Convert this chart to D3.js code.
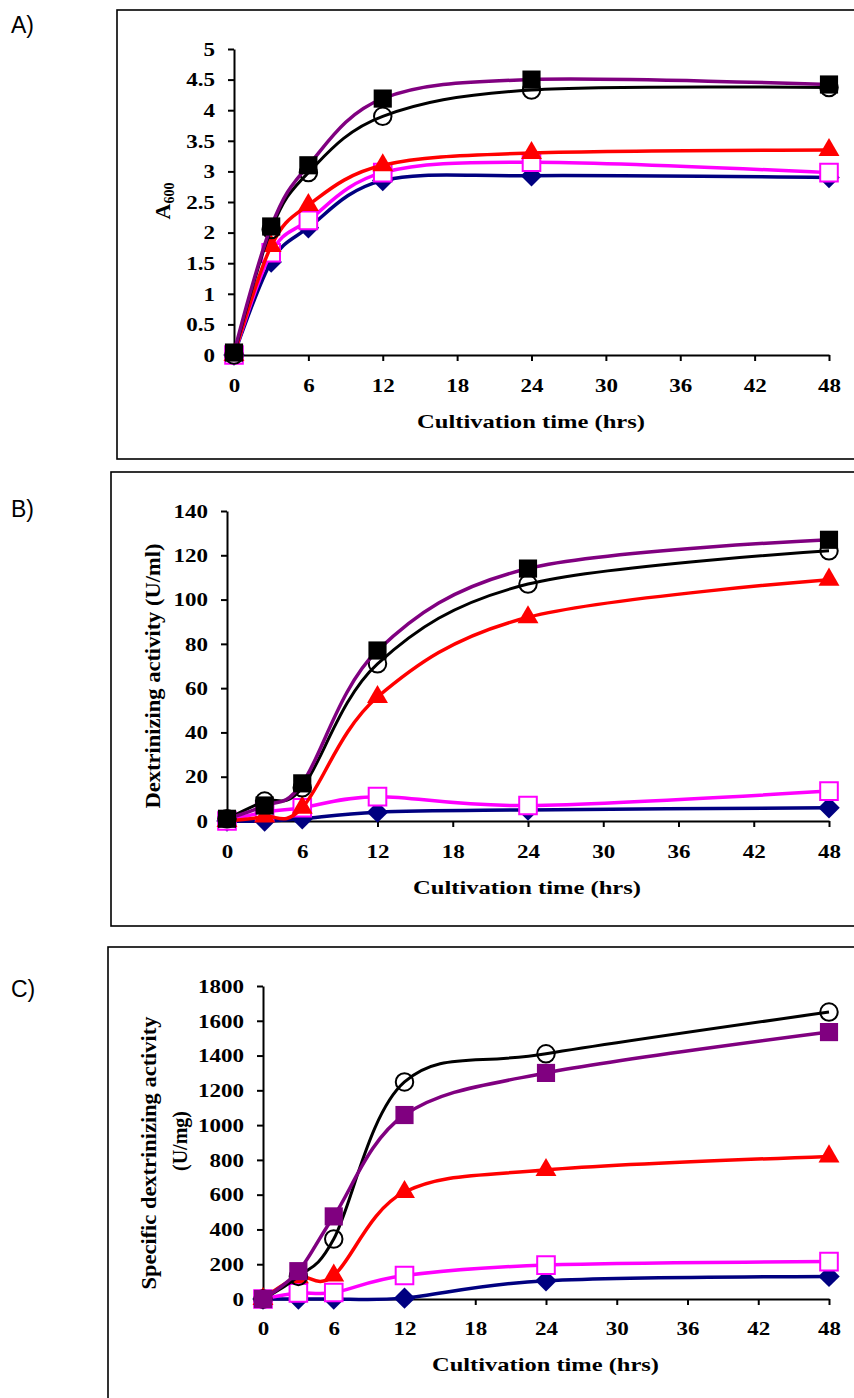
<!DOCTYPE html>
<html lang="en">
  <head>
    <meta charset="UTF-8" />
    <title>Growth and dextrinizing activity</title>
    <script src="https://cdn.jsdelivr.net/npm/d3@7"></script>
    <style>
      body { margin: 0; background: #fff; }
      svg { display: block; }
    </style>
  </head>
  <body>
    <div id="container"></div>
    <script>
      // sampling times (hrs)
      const times = [0, 3, 6, 12, 24, 48]
      const xTicks = [0, 6, 12, 18, 24, 30, 36, 42, 48]

      // A) growth, A600
      const diamondA = [0, 1.52, 2.08, 2.85, 2.93, 2.9]
      const openSquareA = [0, 1.67, 2.2, 2.98, 3.15, 2.98]
      const triangleA = [0, 1.78, 2.45, 3.1, 3.3, 3.35]
      const circleA = [0, 2.05, 2.98, 3.9, 4.33, 4.37]
      const squareA = [0.04, 2.1, 3.1, 4.19, 4.5, 4.42]
      const yTicksA = [0, 0.5, 1, 1.5, 2, 2.5, 3, 3.5, 4, 4.5, 5]

      // B) dextrinizing activity (U/ml)
      const diamondB = [0, 0, 1, 4, 5, 6]
      const openSquareB = [0, 4, 6, 11, 7, 13.5]
      const triangleB = [0, 2, 6, 56, 92, 109]
      const circleB = [1, 9, 15, 71, 107, 122]
      const squareB = [1, 7, 17, 77, 114, 127]
      const yTicksB = [0, 20, 40, 60, 80, 100, 120, 140]

      // C) specific dextrinizing activity (U/mg)
      const diamondC = [0, 0, 0, 5, 105, 130]
      const openSquareC = [0, 35, 37, 135, 195, 215]
      const triangleC = [0, 125, 135, 615, 742, 820]
      const circleC = [0, 130, 345, 1248, 1410, 1650]
      const squareC = [0, 160, 475, 1058, 1300, 1535]
      const yTicksC = [0, 200, 400, 600, 800, 1000, 1200, 1400, 1600, 1800]

      const width = 854
      const height = 1398
      const serif = '"Liberation Serif", "Times New Roman", serif'
      const stretch = 1.18

      const svg = d3.select('#container').append('svg')
        .attr('width', width)
        .attr('height', height)
        .attr('viewBox', [0, 0, width, height])

      // marker styles per series (drawing order matters)
      const styles = [
        { color: '#000080', lw: 3.5, sym: 'diamond', size: 230, fill: '#000080' },
        { color: '#ff00ff', lw: 3.5, sym: d3.symbolSquare, size: 310, fill: '#fff', sw: 2 },
        { color: '#ff0000', lw: 3.5, sym: d3.symbolTriangle, size: 190, fill: '#ff0000' },
        { color: '#000000', lw: 3, sym: d3.symbolCircle, size: 240, fill: 'none', sw: 2 },
        { color: '#800080', lw: 3.5, sym: d3.symbolSquare, size: 330, fill: '#000' }
      ]

      const panels = [
        {
          tag: 'A)', tagY: 33, box: [117, 10, 459],
          x0: 234, x1: 829, yTop: 49, yBot: 355, yMax: 5, yTicks: yTicksA,
          series: [diamondA, openSquareA, triangleA, circleA, squareA],
          squareFill: '#000', tickY: 392, titleY: 428, titleX: 417, titleLen: 228,
          ylabel: 'A600', ylabelX: 170, ylabelY: 201
        },
        {
          tag: 'B)', tagY: 517, box: [111, 472, 926],
          x0: 227, x1: 829, yTop: 511, yBot: 821, yMax: 140, yTicks: yTicksB,
          series: [diamondB, openSquareB, triangleB, circleB, squareB],
          squareFill: '#000', tickY: 858, titleY: 894, titleX: 413, titleLen: 228,
          ylabel: ['Dextrinizing activity (U/ml)'], ylabelX: 160, ylabelY: 676, ylabelLen: 265
        },
        {
          tag: 'C)', tagY: 997, box: [108, 947, 1420],
          x0: 263, x1: 829, yTop: 986, yBot: 1299, yMax: 1800, yTicks: yTicksC,
          series: [diamondC, openSquareC, triangleC, circleC, squareC],
          squareFill: '#800080', tickY: 1335, titleY: 1371, titleX: 432, titleLen: 227,
          ylabel: ['Specific dextrinizing activity', '(U/mg)'], ylabelX: 156, ylabelY: 1153,
          ylabelLen: 273, ylabel2X: 187, ylabel2Y: 1141
        }
      ]

      const fmt = d => String(d)

      panels.forEach(p => {
        const g = svg.append('g')

        // outer frame (runs off the right side of the picture)
        g.append('rect')
          .attr('x', p.box[0]).attr('y', p.box[1])
          .attr('width', 900).attr('height', p.box[2] - p.box[1])
          .attr('fill', 'none').attr('stroke', '#000').attr('stroke-width', 1.6)

        // panel tag
        g.append('text')
          .attr('x', 11).attr('y', p.tagY)
          .attr('font-family', '"Liberation Sans", Arial, sans-serif')
          .attr('font-size', 23)
          .text(p.tag)

        const x = d3.scaleLinear().domain([0, 48]).range([p.x0, p.x1])
        const y = d3.scaleLinear().domain([0, p.yMax]).range([p.yBot, p.yTop])

        // x axis
        const gx = g.append('g')
          .attr('transform', `translate(0, ${p.yBot})`)
          .call(d3.axisBottom(x).tickValues(xTicks).tickFormat(fmt).tickSize(6).tickSizeOuter(0))
        gx.select('.domain').attr('stroke-width', 2)
        gx.selectAll('.tick line').attr('stroke-width', 2)
        gx.selectAll('.tick text')
          .attr('y', p.tickY - p.yBot).attr('dy', null)
          .attr('font-family', serif).attr('font-weight', 'bold').attr('font-size', 19.5)
          .attr('fill', '#000')
          .attr('transform', `scale(${stretch},1)`)

        // y axis
        const gy = g.append('g')
          .attr('transform', `translate(${p.x0}, 0)`)
          .call(d3.axisLeft(y).tickValues(p.yTicks).tickFormat(fmt).tickSize(6).tickSizeOuter(0))
        gy.select('.domain').attr('stroke-width', 2)
        gy.selectAll('.tick line').attr('stroke-width', 2)
        gy.selectAll('.tick text')
          .attr('x', -19 / stretch)
          .attr('font-family', serif).attr('font-weight', 'bold').attr('font-size', 19.5)
          .attr('fill', '#000')
          .attr('transform', `scale(${stretch},1)`)

        // x title
        g.append('text')
          .attr('x', p.titleX).attr('y', p.titleY)
          .attr('font-family', serif).attr('font-weight', 'bold').attr('font-size', 19)
          .attr('textLength', p.titleLen).attr('lengthAdjust', 'spacingAndGlyphs')
          .text('Cultivation time (hrs)')

        // y title
        if (p.ylabel === 'A600') {
          const t = g.append('text')
            .attr('transform', `translate(${p.ylabelX}, ${p.ylabelY}) rotate(-90)`)
            .attr('text-anchor', 'middle')
            .attr('font-family', serif).attr('font-weight', 'bold')
          t.append('tspan').attr('font-size', 22).text('A')
          t.append('tspan').attr('font-size', 14).attr('dy', 4).text('600')
        } else {
          g.append('text')
            .attr('transform', `translate(${p.ylabelX}, ${p.ylabelY}) rotate(-90)`)
            .attr('x', -p.ylabelLen / 2)
            .attr('font-family', serif).attr('font-weight', 'bold').attr('font-size', 20)
            .attr('textLength', p.ylabelLen).attr('lengthAdjust', 'spacingAndGlyphs')
            .text(p.ylabel[0])
          if (p.ylabel[1]) {
            g.append('text')
              .attr('transform', `translate(${p.ylabel2X}, ${p.ylabel2Y}) rotate(-90)`)
              .attr('text-anchor', 'middle')
              .attr('font-family', serif).attr('font-weight', 'bold').attr('font-size', 20)
              .text(p.ylabel[1])
          }
        }

        // smoothed lines, Excel style
        const line = d3.line()
          .x((d, i) => x(times[i]))
          .y(d => y(d))
          .curve(d3.curveCatmullRom.alpha(0))

        p.series.forEach((vals, si) => {
          const st = styles[si]
          const sg = g.append('g')
          sg.append('path')
            .attr('d', line(vals))
            .attr('fill', 'none')
            .attr('stroke', st.color)
            .attr('stroke-width', st.lw)
            .attr('stroke-linejoin', 'round')

          const isDiamond = st.sym === 'diamond'
          const sym = d3.symbol().type(isDiamond ? d3.symbolSquare : st.sym).size(st.size)
          const fill = si === 4 ? p.squareFill : st.fill
          sg.selectAll('path.mark')
            .data(vals)
            .join('path')
            .attr('class', 'mark')
            .attr('d', sym)
            .attr('transform', (d, i) =>
              `translate(${x(times[i])}, ${y(d)})` + (isDiamond ? ' rotate(45)' : ''))
            .attr('fill', fill)
            .attr('stroke', st.sw ? st.color : 'none')
            .attr('stroke-width', st.sw || 0)
        })
      })
    </script>
  </body>
</html>
